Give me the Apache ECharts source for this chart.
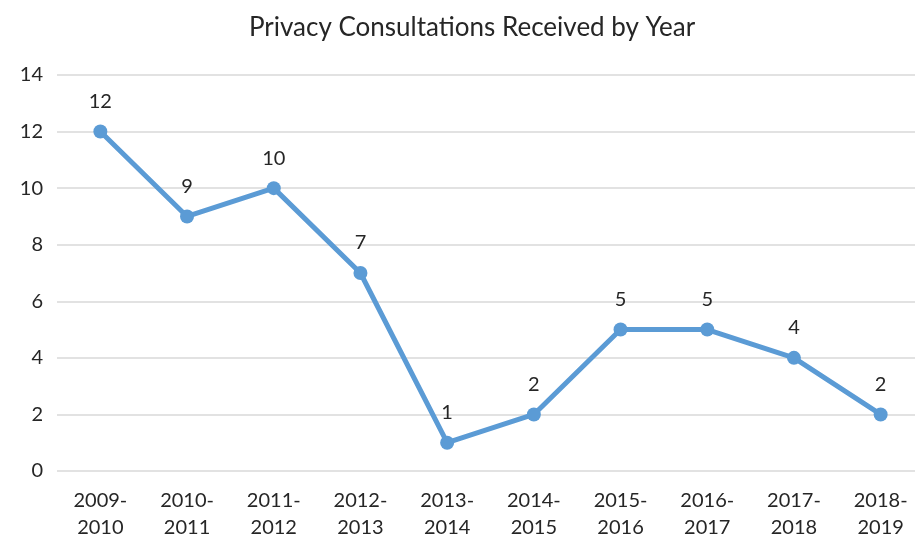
<!DOCTYPE html>
<html>
<head>
<meta charset="utf-8">
<script src="https://cdn.jsdelivr.net/npm/echarts@6/dist/echarts.min.js"></script>
<style>
  html, body { margin: 0; padding: 0; background: #fff; overflow: hidden; }
  #chart { width: 924px; height: 542px; }
</style>
</head>
<body>
<div id="chart"></div>
<script>
// 年度类别
const years = ['2009-\n2010', '2010-\n2011', '2011-\n2012', '2012-\n2013', '2013-\n2014',
    '2014-\n2015', '2015-\n2016', '2016-\n2017', '2017-\n2018', '2018-\n2019'];
// 咨询数量
const consultations = [12, 9, 10, 7, 1, 2, 5, 5, 4, 2];

const font = 'Lato';
let myChart = echarts.init(document.getElementById('chart'));
let option = {
    animation: false,
    title: {
        text: 'Privacy Consultations Received by Year',
        left: 467,
        textAlign: 'center',
        top: 10,
        textStyle: { fontFamily: font, fontSize: 26, fontWeight: 'normal', color: '#262626' }
    },
    grid: { left: 57, right: 0, top: 75, bottom: 71 },
    xAxis: {
        type: 'category',
        data: years,
        axisLine: { show: false },
        axisTick: { show: false },
        axisLabel: { fontFamily: font, fontSize: 20, color: '#262626', margin: 16, lineHeight: 27 }
    },
    yAxis: {
        type: 'value',
        min: 0,
        max: 14,
        interval: 2,
        axisLabel: { fontFamily: font, fontSize: 20, color: '#262626', margin: 14 },
        splitLine: { lineStyle: { color: '#d9d9d9', width: 1.5 } }
    },
    series: [{
        type: 'line',
        data: consultations,
        symbol: 'circle',
        symbolSize: 14,
        lineStyle: { color: '#5b9bd5', width: 5 },
        itemStyle: { color: '#5b9bd5' },
        label: {
            show: true,
            position: 'top',
            distance: 13,
            fontFamily: font,
            fontSize: 20,
            color: '#262626'
        }
    }]
};
myChart.setOption(option);
</script>
</body>
</html>
